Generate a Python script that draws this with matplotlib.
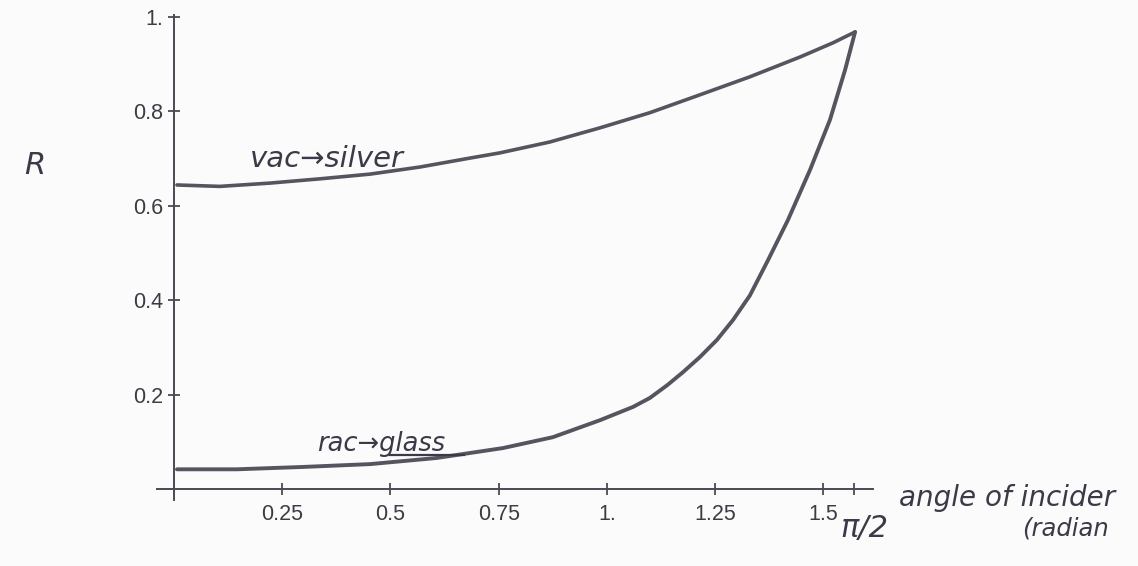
import numpy as np
import matplotlib.pyplot as plt

# values (angle in radians, reflectance R)
silver_angle = [0.007, 0.106, 0.222, 0.337, 0.453, 0.568, 0.684, 0.753, 0.868,
                0.984, 1.099, 1.215, 1.330, 1.446, 1.522, 1.573]
silver_R = [0.644, 0.641, 0.648, 0.657, 0.667, 0.682, 0.701, 0.712, 0.735,
            0.765, 0.797, 0.835, 0.873, 0.915, 0.945, 0.968]

glass_angle = [0.007, 0.145, 0.298, 0.453, 0.607, 0.760, 0.875, 0.984, 1.060,
               1.099, 1.139, 1.176, 1.215, 1.254, 1.291, 1.330, 1.372, 1.418,
               1.469, 1.515, 1.550, 1.573]
glass_R = [0.042, 0.042, 0.047, 0.053, 0.066, 0.087, 0.110, 0.146, 0.174,
           0.193, 0.220, 0.248, 0.280, 0.316, 0.358, 0.410, 0.485, 0.570,
           0.676, 0.782, 0.888, 0.968]

x_ticks = [0.25, 0.5, 0.75, 1.0, 1.25, 1.5, np.pi / 2]
x_labels = ["0.25", "0.5", "0.75", "1.", "1.25", "1.5", ""]
y_ticks = [0.2, 0.4, 0.6, 0.8, 1.0]
y_labels = ["0.2", "0.4", "0.6", "0.8", "1."]

ink = "#4a4a52"
paper = "#fbfbfb"

fig = plt.figure(figsize=(11.38, 5.66), dpi=100, facecolor=paper)
ax = fig.add_axes([0.138, 0.1166, 0.629, 0.857])
ax.set_facecolor(paper)

ax.plot(silver_angle, silver_R, color="#555560", lw=2.6,
        solid_capstyle="round", solid_joinstyle="round")
ax.plot(glass_angle, glass_R, color="#555560", lw=2.8,
        solid_capstyle="round", solid_joinstyle="round")

ax.set_xlim(-0.039, 1.614)
ax.set_ylim(-0.023, 1.004)

# axes crossing at the origin, Mathematica style
ax.spines["left"].set_position(("data", 0))
ax.spines["bottom"].set_position(("data", 0))
ax.spines["right"].set_visible(False)
ax.spines["top"].set_visible(False)
for s in ("left", "bottom"):
    ax.spines[s].set_color(ink)
    ax.spines[s].set_linewidth(1.4)

ax.set_xticks(x_ticks)
ax.set_xticklabels(x_labels)
ax.set_yticks(y_ticks)
ax.set_yticklabels(y_labels)
ax.tick_params(direction="inout", length=9, width=1.3, color=ink,
               labelcolor="#3c3c44", labelsize=15.5)
ax.tick_params(axis="x", pad=6)
ax.tick_params(axis="y", pad=3)
for lab in ax.get_xticklabels() + ax.get_yticklabels():
    lab.set_family("Liberation Sans")

# handwritten notes
hand = dict(color="#3a3a48", family="DejaVu Sans", style="italic")
ax.text(0.176, 0.70, "vac\u2192silver", fontsize=21, ha="left", va="center", **hand)
ax.text(0.33, 0.096, "rac\u2192glass", fontsize=18.5, ha="left", va="center", **hand)
ax.plot([0.50, 0.67], [0.072, 0.072], color="#3a3a48", lw=1.6)
fig.text(0.031, 0.708, "R", fontsize=22, ha="center", va="center", **hand)
fig.text(0.738, 0.066, "\u03c0/2", fontsize=22, ha="left", va="center", **hand)
fig.text(0.790, 0.121, "angle of incider", fontsize=20, ha="left", va="center", **hand)
fig.text(0.898, 0.067, "(radian", fontsize=17.5, ha="left", va="center", **hand)

fig.savefig("out.png", dpi=100, facecolor=paper)
